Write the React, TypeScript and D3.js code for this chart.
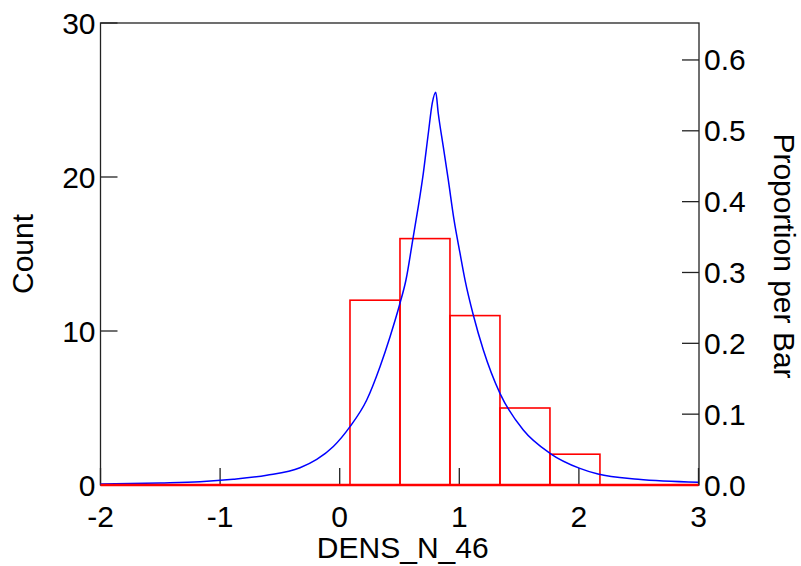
import React from "react";
import * as d3 from "d3";

const W = 801;
const H = 566;

const binEdges = [0.086, 0.504, 0.922, 1.34, 1.758, 2.176];
const binCounts = [12, 16, 11, 5, 2];

const curveX = [
  -2.0, -1.5, -1.168, -0.89, -0.61, -0.332, -0.192, -0.053, 0.086, 0.226, 0.337,
  0.421, 0.504, 0.554, 0.615, 0.657, 0.699, 0.741, 0.774, 0.803, 0.824, 0.866,
  0.908, 0.956, 1.006, 1.048, 1.117, 1.201, 1.34, 1.535, 1.758, 2.008, 2.16,
  2.495, 2.996,
];
const curveY = [
  0.06, 0.13, 0.21, 0.37, 0.63, 1.12, 1.66, 2.5, 3.79, 5.52, 7.68, 9.63, 11.8,
  13.31, 16.12, 18.07, 20.24, 22.84, 24.79, 25.5, 24.14, 21.97, 19.81, 17.21,
  15.05, 13.31, 11.04, 8.77, 5.95, 3.57, 2.06, 1.08, 0.71, 0.37, 0.18,
];

const xTicks = [-2, -1, 0, 1, 2, 3];
const countTicks = [0, 10, 20, 30];
const propTicks = [0, 0.1, 0.2, 0.3, 0.4, 0.5, 0.6];

const xLabel = "DENS_N_46";
const yLabel = "Count";
const y2Label = "Proportion per Bar";

export default function App() {
  const left = 100.5;
  const right = 699;
  const top = 23;
  const bottom = 485;
  const total = d3.sum(binCounts);

  const x = d3.scaleLinear().domain([-2, 3]).range([left, right - 0.5]);
  const y = d3.scaleLinear().domain([0, 30]).range([bottom, top]);
  const y2 = d3.scaleLinear().domain([0, 30 / total]).range([bottom, top]);

  const pts: [number, number][] = curveX.map((v, i) => [v, curveY[i]]);
  const line = d3
    .line<[number, number]>()
    .x((d) => x(d[0]))
    .y((d) => y(d[1]))
    .curve(d3.curveMonotoneX);

  const font = '"Liberation Sans", Arial, Helvetica, sans-serif';
  const fs = 30;
  const tickLen = 17;

  return (
    <svg
      width={W}
      height={H}
      style={{ position: "absolute", left: 0, top: 0, background: "#fff" }}
      fontFamily={font}
    >
      <rect x={0} y={0} width={W} height={H} fill="#fff" />
      <rect
        x={left}
        y={top}
        width={right - left}
        height={bottom - top}
        fill="none"
        stroke="#222"
        strokeWidth={1.3}
      />
      {countTicks.map((t) => (
        <g key={"c" + t}>
          <line x1={left} x2={left + tickLen} y1={y(t)} y2={y(t)} stroke="#222" strokeWidth={1.3} />
          <text
            x={left - 5}
            y={y(t)}
            fontSize={fs}
            textAnchor="end"
            dominantBaseline="central"
            fill="#000"
          >
            {t}
          </text>
        </g>
      ))}
      {propTicks.map((t) => (
        <g key={"p" + t}>
          <line x1={right - tickLen} x2={right} y1={y2(t)} y2={y2(t)} stroke="#222" strokeWidth={1.3} />
          <text
            x={right + 5}
            y={y2(t)}
            fontSize={fs}
            textAnchor="start"
            dominantBaseline="central"
            fill="#000"
          >
            {d3.format(".1f")(t)}
          </text>
        </g>
      ))}
      {xTicks.map((t) => (
        <g key={"x" + t}>
          <line x1={x(t)} x2={x(t)} y1={bottom} y2={bottom - tickLen} stroke="#222" strokeWidth={1.3} />
          <text x={x(t)} y={bottom + 42} fontSize={fs} textAnchor="middle" fill="#000">
            {t}
          </text>
        </g>
      ))}
      {binCounts.map((c, i) => (
        <rect
          key={"b" + i}
          x={x(binEdges[i])}
          y={y(c)}
          width={x(binEdges[i + 1]) - x(binEdges[i])}
          height={y(0) - y(c)}
          fill="none"
          stroke="#ff0000"
          strokeWidth={1.6}
        />
      ))}
      <path d={line(pts) || ""} fill="none" stroke="#0000ff" strokeWidth={1.5} />
      <line x1={x(-2)} x2={x(3)} y1={y(0)} y2={y(0)} stroke="#ff0000" strokeWidth={2.5} />
      <text x={(left + right) / 2 + 3} y={558} fontSize={fs} textAnchor="middle" fill="#000">
        {xLabel}
      </text>
      <text
        transform={`translate(33,254) rotate(-90)`}
        fontSize={fs}
        textAnchor="middle"
        fill="#000"
      >
        {yLabel}
      </text>
      <text
        transform={`translate(774,256) rotate(90)`}
        fontSize={fs}
        textAnchor="middle"
        fill="#000"
      >
        {y2Label}
      </text>
    </svg>
  );
}
